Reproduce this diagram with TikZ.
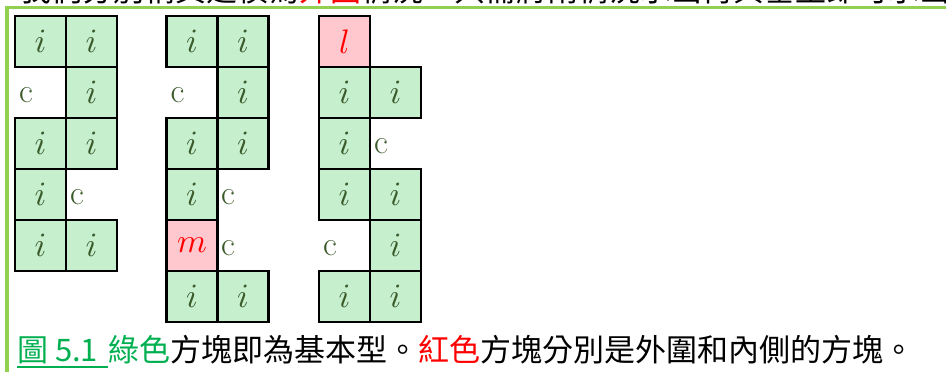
\documentclass[tikz,border=0pt]{standalone}
\usepackage{fontspec}
\newfontfamily\cjk{Noto Sans CJK TC}
\definecolor{cellg}{HTML}{C6EFCE}
\definecolor{cellr}{HTML}{FFC7CE}
\definecolor{txtg}{HTML}{3A5A2A}
\definecolor{frameg}{HTML}{92D050}
\definecolor{capg}{HTML}{00B050}
\definecolor{capr}{HTML}{FF0000}
\newcommand\myi{\scalebox{3.4}{$i$}}
\newcommand\mym{\scalebox{3.4}{$m$}}
\newcommand\myl{\scalebox{3.4}{$l$}}
\tikzset{
  gcell/.style={draw=black, line width=2.8pt, fill=cellg, minimum size=51pt, inner sep=0pt, text=txtg},
  rcell/.style={gcell, fill=cellr, text=capr},
  ctext/.style={anchor=west, inner sep=0pt, text=txtg, font=\fontsize{34}{34}\selectfont},
  captxt/.style={anchor=base west, inner sep=0pt, font=\cjk\fontsize{31}{31}\selectfont}
}
\begin{document}
\begin{tikzpicture}[x=1pt,y=-1pt]
\useasboundingbox (0,0) rectangle (946,372);
% cut-off line of text above the frame
\node[captxt] (topline) at (20,1.5) {我們分別稱其建模為\textcolor{capr}{外圍}情況，只需將兩情況求出再與基型即可求出};
% frame
\draw[frameg, line width=3.5pt] (960,7.5) -- (7,7.5) -- (7,390);
% group 1
\node[gcell] (a00) at (40.5,41.5) {\myi};
\node[gcell] (a01) at (91.5,41.5) {\myi};
\node[ctext] (a10) at (19,95.5) {c};
\node[gcell] (a11) at (91.5,92.5) {\myi};
\node[gcell] (a20) at (40.5,143.5) {\myi};
\node[gcell] (a21) at (91.5,143.5) {\myi};
\node[gcell] (a30) at (40.5,194.5) {\myi};
\node[ctext] (a31) at (70,197.5) {c};
\node[gcell] (a40) at (40.5,245.5) {\myi};
\node[gcell] (a41) at (91.5,245.5) {\myi};
% group 2
\node[gcell] (b00) at (192,41.5) {\myi};
\node[gcell] (b01) at (243,41.5) {\myi};
\node[ctext] (b10) at (170.5,95.5) {c};
\node[gcell] (b11) at (243,92.5) {\myi};
\node[gcell] (b20) at (192,143.5) {\myi};
\node[gcell] (b21) at (243,143.5) {\myi};
\node[gcell] (b30) at (192,194.5) {\myi};
\node[ctext] (b31) at (221,197.5) {c};
\node[rcell] (b40) at (192,245.5) {\mym};
\node[ctext] (b41) at (221,248.5) {c};
\node[gcell] (b50) at (192,296.5) {\myi};
\node[gcell] (b51) at (243,296.5) {\myi};
% group 3
\node[rcell] (c00) at (344.5,41.5) {\myl};
\node[gcell] (c10) at (344.5,92.5) {\myi};
\node[gcell] (c11) at (395.5,92.5) {\myi};
\node[gcell] (c20) at (344.5,143.5) {\myi};
\node[ctext] (c21) at (374,146.5) {c};
\node[gcell] (c30) at (344.5,194.5) {\myi};
\node[gcell] (c31) at (395.5,194.5) {\myi};
\node[ctext] (c40) at (323,248.5) {c};
\node[gcell] (c41) at (395.5,245.5) {\myi};
\node[gcell] (c50) at (344.5,296.5) {\myi};
\node[gcell] (c51) at (395.5,296.5) {\myi};
% caption
\node[captxt, text=capg] (fig) at (17,361) {圖 5.1};
\node[captxt] (cap) at ([xshift=10pt]fig.base east) {\textcolor{capg}{綠色}方塊即為基本型。\textcolor{capr}{紅色}方塊分別是外圍和內側的方塊。};
\draw[capg, line width=2pt] ([yshift=-3.5pt]fig.south west) -- ([yshift=-3.5pt]fig.south west -| cap.west);
\end{tikzpicture}
\end{document}
